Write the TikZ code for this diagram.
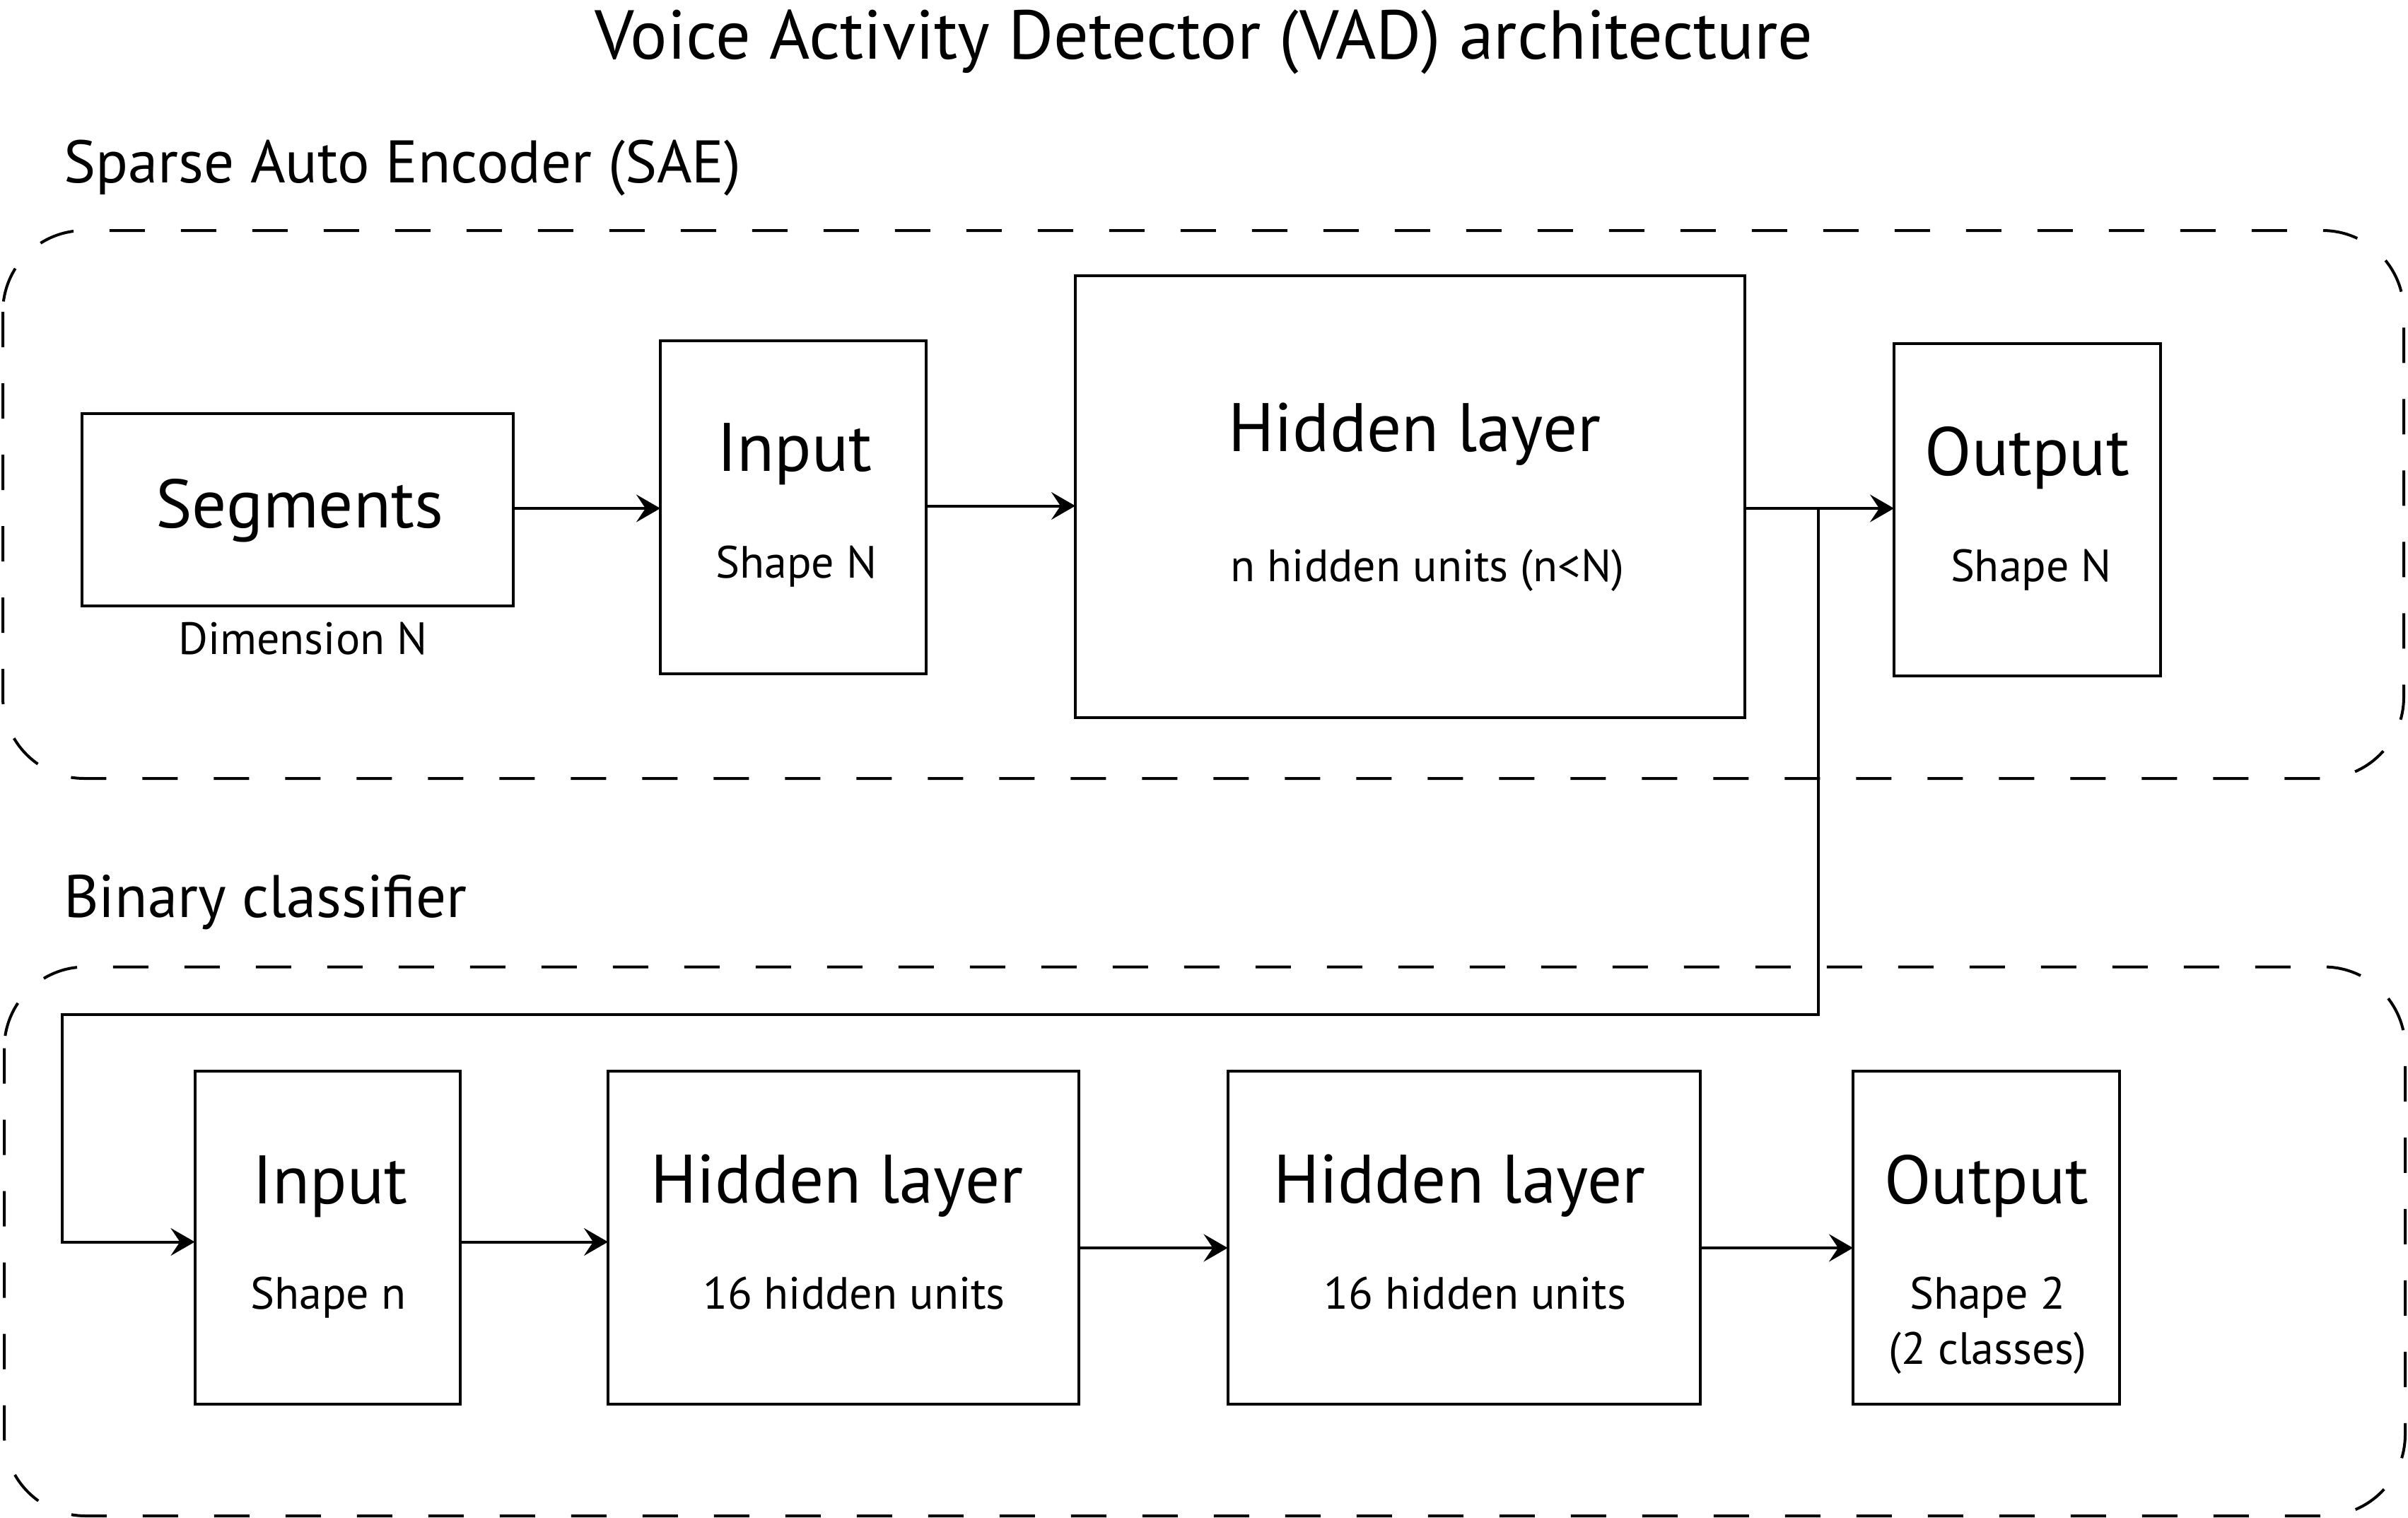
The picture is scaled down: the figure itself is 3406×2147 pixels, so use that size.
\documentclass[tikz,border=0pt]{standalone}
\usepackage{fontspec}
\setmainfont{PT Sans}
\usetikzlibrary{arrows.meta,calc}
\begin{document}
\begin{tikzpicture}[x=1pt,y=-1pt,
  box/.style={draw,line width=4pt,rectangle,inner sep=0pt,outer sep=0pt},
  dashbox/.style={draw,line width=4pt,dash pattern=on 50pt off 51pt,rounded corners=115pt},
  big/.style={inner sep=0pt,anchor=base,font=\fontsize{97}{110}\selectfont},
  small/.style={inner sep=0pt,anchor=base,font=\fontsize{64}{72}\selectfont},
  section/.style={inner sep=0pt,anchor=base west,font=\fontsize{85}{96}\selectfont},
  titlefont/.style={inner sep=0pt,anchor=base,font=\fontsize{98}{110}\selectfont},
  line/.style={line width=4pt,line join=miter},
  arr/.style={line width=4pt,line join=miter,-{Stealth[length=34pt,width=39pt,inset=13pt]}}]
\useasboundingbox (0,0) rectangle (3406,2147);

% titles
\node[titlefont] (title) at (1703,83) {Voice Activity Detector (VAD) architecture};
\node[section] (saelab) at (90,258) {Sparse Auto Encoder (SAE)};
\node[section] (binlab) at (90,1297) {Binary classifier};

% group frames
\draw[dashbox] (4,326) rectangle (3400,1101);
\draw[dashbox] (6,1367.5) rectangle (3402,2144);

% SAE row
\node[box,minimum width=609.5pt,minimum height=272pt] (seg) at (420.75,721) {};
\node[big] (segt) at (423.5,746) {Segments};
\node[small] (segd) at (428.5,925) {Dimension N};

\node[box,minimum width=376pt,minimum height=471pt] (in1) at (1122,717.5) {};
\node[big] (in1t) at (1124,666) {Input};
\node[small] (in1s) at (1126.5,817) {Shape N};

\node[box,minimum width=947pt,minimum height=625pt] (hid1) at (1994.5,702.5) {};
\node[big] (hid1t) at (2001,638) {Hidden layer};
\node[small] (hid1s) at (2019,822) {n hidden units (n<N)};

\node[box,minimum width=376.5pt,minimum height=470pt] (out1) at (2867.25,721) {};
\node[big] (out1t) at (2867.5,672.5) {Output};
\node[small] (out1s) at (2873,822) {Shape N};

% classifier row
\node[box,minimum width=375pt,minimum height=471pt] (in2) at (463,1750.5) {};
\node[big] (in2t) at (467,1702) {Input};
\node[small] (in2s) at (464.5,1851) {Shape n};

\node[box,minimum width=666pt,minimum height=471pt] (hid2) at (1193,1750.5) {};
\node[big] (hid2t) at (1184,1701) {Hidden layer};
\node[small] (hid2s) at (1208,1851) {16 hidden units};

\node[box,minimum width=668.5pt,minimum height=471pt] (hid3) at (2070.75,1750.5) {};
\node[big] (hid3t) at (2064.5,1701) {Hidden layer};
\node[small] (hid3s) at (2086.5,1851) {16 hidden units};

\node[box,minimum width=377pt,minimum height=471pt] (out2) at (2809.5,1750.5) {};
\node[big] (out2t) at (2810,1702) {Output};
\node[small] (out2s) at (2811,1851) {Shape 2};
\node[small] (out2c) at (2811.5,1929) {(2 classes)};

% helper coordinates
\coordinate (r1a) at (0,719);
\coordinate (r1b) at (0,715.5);
\coordinate (br) at (2572,719);
\coordinate (fbR) at (2572,1435);
\coordinate (fbL) at (88,1435);
\coordinate (fbD) at (88,1756.5);
\coordinate (r2) at (0,1765);

% connectors
\draw[arr] (seg.east |- r1a) -- (in1.west |- r1a);
\draw[arr] (in1.east |- r1b) -- (hid1.west |- r1b);
\draw[arr] (hid1.east |- r1a) -- (out1.west |- r1a);
\draw[arr] (br) -- (fbR) -- (fbL) -- (fbD) -- (fbD -| in2.west);
\draw[arr] (fbD -| in2.east) -- (fbD -| hid2.west);
\draw[arr] (hid2.east |- r2) -- (hid3.west |- r2);
\draw[arr] (hid3.east |- r2) -- (out2.west |- r2);
\end{tikzpicture}
\end{document}
